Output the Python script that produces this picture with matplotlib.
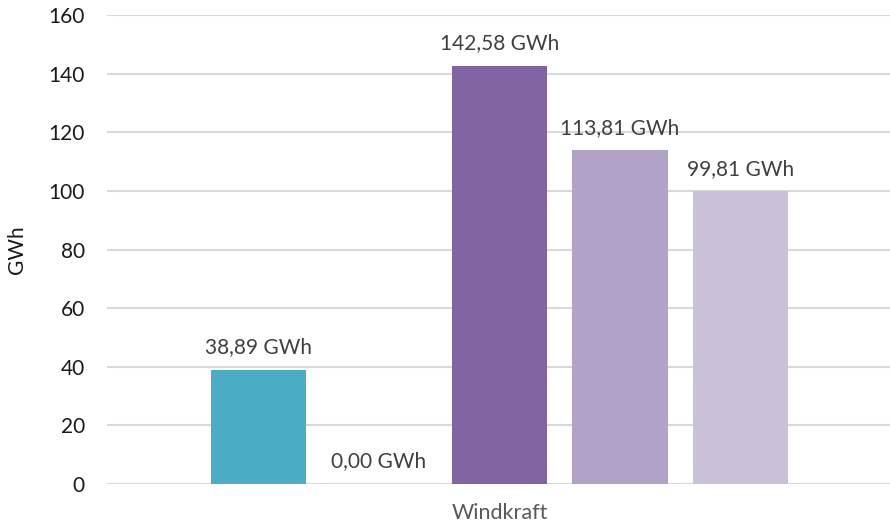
import numpy as np
import matplotlib.pyplot as plt

# Windkraft values per series (GWh)
category = "Windkraft"
values = [38.89, 0.00, 142.58, 113.81, 99.81]
colors = ["#4BACC6", "#4BACC6", "#8064A2", "#B1A2C7", "#CBC0DA"]
yticks = [0, 20, 40, 60, 80, 100, 120, 140, 160]

plt.rcParams['font.family'] = ['Lato', 'DejaVu Sans']


def fmt(v):
	return f"{v:.2f}".replace(".", ",") + " GWh"


def main():
	fig = plt.figure(figsize=(8.9, 5.25), dpi=100)
	ax = fig.add_axes([0.1202, 0.0781, 0.8798, 0.8933])

	x = np.arange(len(values))
	bars = ax.bar(x, values, width=0.79, color=colors, zorder=2)

	for b, v in zip(bars, values):
		ax.annotate(fmt(v), (b.get_x() + b.get_width() / 2, v),
					xytext=(0, 12), textcoords="offset points",
					ha="center", va="baseline", fontsize=15, color="#404040")

	ax.set_ylim(0, 160)
	ax.set_yticks(yticks)
	ax.set_xlim(-1.257, 5.24)
	ax.set_xticks([x.mean()])
	ax.set_xticklabels([category], fontsize=15.5, color="#595959")
	ax.tick_params(axis="y", labelsize=15, colors="#1a1a1a", length=0, pad=16)
	ax.tick_params(axis="x", length=0, pad=14)

	ax.grid(axis="y", color="#d9d9d9", linewidth=1.5, zorder=0)
	for s in ax.spines.values():
		s.set_visible(False)

	ax.set_ylabel("GWh", fontsize=15, color="#1a1a1a")
	ax.yaxis.set_label_coords(-0.102, 0.5)

	fig.savefig("out.png", dpi=100)


main()
